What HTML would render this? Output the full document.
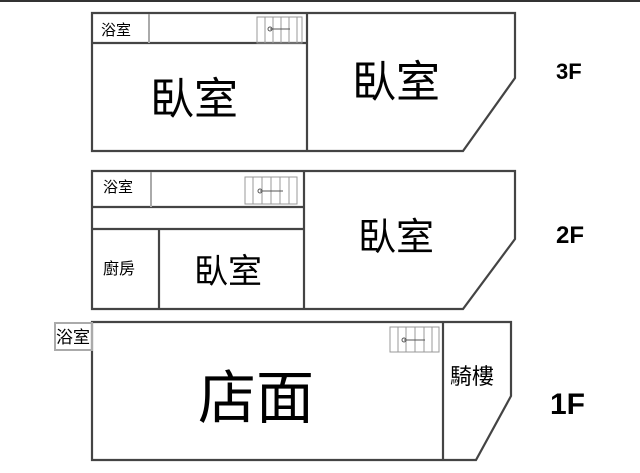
<!DOCTYPE html>
<html><head><meta charset="utf-8"><style>
body{margin:0;background:#fff}
svg{display:block}
text{font-family:"Liberation Sans","Noto Sans CJK TC",sans-serif;fill:#000}
.w{fill:none;stroke:#444;stroke-width:2.2}
.s{fill:none;stroke:#999;stroke-width:1}
.t{font-weight:bold;font-family:"Liberation Sans",sans-serif}
</style></head><body>
<svg width="640" height="473" viewBox="0 0 640 473" xmlns="http://www.w3.org/2000/svg">
<line x1="0" y1="1" x2="640" y2="1" stroke="#333" stroke-width="2"/>
<!-- 3F -->
<path class="w" d="M92,13 H515 V78 L463,151 H92 Z"/>
<line class="w" x1="307" y1="13" x2="307" y2="151"/>
<line class="w" x1="92" y1="43" x2="307" y2="43"/>
<line x1="149" y1="14" x2="149" y2="43" stroke="#aaa" stroke-width="2"/>
<g class="s"><rect x="257" y="17" width="45" height="26"/><line x1="265" y1="17" x2="265" y2="43"/><line x1="273" y1="17" x2="273" y2="43"/><line x1="281" y1="17" x2="281" y2="43"/><line x1="289" y1="17" x2="289" y2="43"/><line x1="297" y1="17" x2="297" y2="43"/><line x1="270" y1="29" x2="290" y2="29" stroke="#555"/><circle cx="270" cy="29" r="2" stroke="#555"/></g>
<text x="101" y="35" font-size="15">浴室</text>
<text x="150" y="114" font-size="44">臥室</text>
<text x="352" y="97" font-size="44">臥室</text>
<text class="t" x="556" y="79" font-size="22">3F</text>
<!-- 2F -->
<path class="w" d="M92,171 H515 V239 L463,309 H92 Z"/>
<line class="w" x1="304" y1="171" x2="304" y2="309"/>
<line class="w" x1="92" y1="207" x2="304" y2="207"/>
<line class="w" x1="92" y1="229" x2="304" y2="229"/>
<line x1="151" y1="172" x2="151" y2="207" stroke="#aaa" stroke-width="2"/>
<line class="w" x1="159" y1="229" x2="159" y2="309"/>
<g class="s"><rect x="245" y="177" width="52" height="27"/><line x1="253" y1="177" x2="253" y2="204"/><line x1="262" y1="177" x2="262" y2="204"/><line x1="271" y1="177" x2="271" y2="204"/><line x1="280" y1="177" x2="280" y2="204"/><line x1="289" y1="177" x2="289" y2="204"/><line x1="260" y1="191" x2="283" y2="191" stroke="#555"/><circle cx="260" cy="191" r="2" stroke="#555"/></g>
<text x="103" y="192" font-size="15">浴室</text>
<text x="103" y="274" font-size="16">廚房</text>
<text x="194" y="283" font-size="34">臥室</text>
<text x="358" y="250" font-size="38">臥室</text>
<text class="t" x="556" y="243" font-size="24">2F</text>
<!-- 1F -->
<path class="w" d="M92,322 H511 V396 L476,460 H92 Z"/>
<line class="w" x1="443" y1="322" x2="443" y2="460"/>
<rect x="55" y="323" width="37" height="27" fill="none" stroke="#aaa" stroke-width="2"/>
<g class="s"><rect x="390" y="327" width="49" height="25"/><line x1="398" y1="327" x2="398" y2="352"/><line x1="406" y1="327" x2="406" y2="352"/><line x1="415" y1="327" x2="415" y2="352"/><line x1="424" y1="327" x2="424" y2="352"/><line x1="432" y1="327" x2="432" y2="352"/><line x1="404" y1="340" x2="425" y2="340" stroke="#555"/><circle cx="404" cy="340" r="2" stroke="#555"/></g>
<text x="56" y="343" font-size="17">浴室</text>
<text x="198" y="418" font-size="58">店面</text>
<text x="450" y="384" font-size="22">騎樓</text>
<text class="t" x="550" y="414" font-size="30">1F</text>
</svg>
</body></html>
